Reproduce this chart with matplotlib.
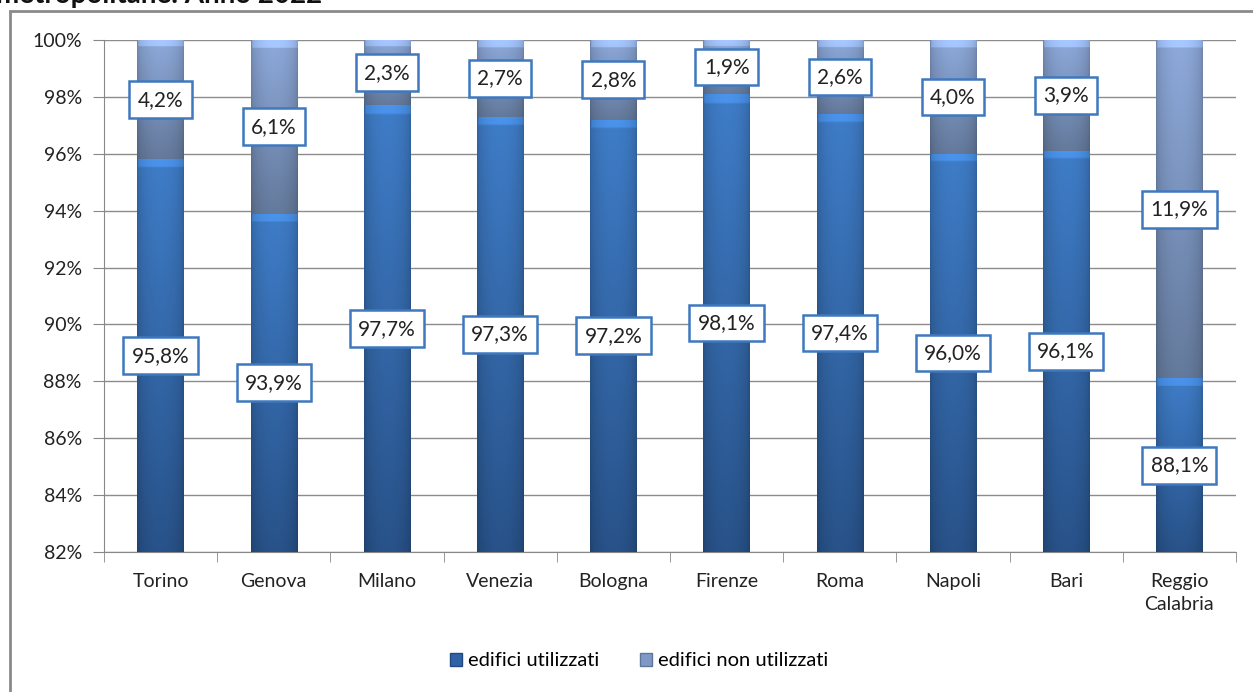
import numpy as np
import matplotlib as mpl
mpl.use('Agg')
import matplotlib.pyplot as plt
import matplotlib.patches as mpatches

# data
cities = ['Torino', 'Genova', 'Milano', 'Venezia', 'Bologna', 'Firenze',
          'Roma', 'Napoli', 'Bari', 'Reggio\nCalabria']
utilizzati = [95.8, 93.9, 97.7, 97.3, 97.2, 98.1, 97.4, 96.0, 96.1, 88.1]
non_utilizzati = [4.2, 6.1, 2.3, 2.7, 2.8, 1.9, 2.6, 4.0, 3.9, 11.9]
y_ticks = [82, 84, 86, 88, 90, 92, 94, 96, 98, 100]

plt.rcParams['font.family'] = ['Lato', 'DejaVu Sans']

fig = plt.figure(figsize=(12.53, 6.92), dpi=100)
ax = fig.add_axes([104/1253., 1-552/692., (1236-104)/1253., 512/692.])

ymin = y_ticks[0]
x = np.arange(len(cities))
w = 0.41
# bars start at the axis floor, as in the spreadsheet original
b1 = ax.bar(x, [u - ymin for u in utilizzati], w, bottom=ymin, color='#3a73ba', zorder=3)
b2 = ax.bar(x, non_utilizzati, w, bottom=utilizzati, color='#7d97c4', zorder=3)


def shade(patches, top, bottom):
    # vertical gradient with darker edges, clipped to each bar
    top = np.array(mpl.colors.to_rgb(top))
    bottom = np.array(mpl.colors.to_rgb(bottom))
    for p in patches:
        x0, y0 = p.get_x(), p.get_y()
        x1, y1 = x0 + p.get_width(), y0 + p.get_height()
        ny, nx = 200, 40
        t = np.linspace(0, 1, ny)[:, None, None]
        s = np.linspace(0, 1, nx)[None, :, None]
        img = top*(1-t) + bottom*t
        img = img*(0.80 + 0.20*np.sin(np.pi*s)**0.5)
        # bevel at the top of each segment
        ypix = (y1 - y0) / 18.0 * 512
        bev = min(7.0 / max(ypix, 1), 0.4)
        hl = (t < bev) & (s > t*0)
        img = np.where(hl, np.clip(img*1.18, 0, 1), img)
        im = ax.imshow(np.clip(img, 0, 1), extent=[x0, x1, y0, y1],
                       aspect='auto', origin='upper', zorder=3.5,
                       interpolation='bilinear')
        im.set_clip_path(p)


shade(b1, '#3f7dc8', '#285289')
shade(b2, '#8eaadb', '#647a9c')

box = dict(boxstyle='square,pad=0.4', fc='white', ec='#3f78be', lw=1.8)
for i in range(len(cities)):
    ax.text(x[i], (ymin + utilizzati[i]) / 2, ('%.1f%%' % utilizzati[i]).replace('.', ','),
            ha='center', va='center', fontsize=15, color='#222222', bbox=box, zorder=5)
    ax.text(x[i], utilizzati[i] + non_utilizzati[i] / 2,
            ('%.1f%%' % non_utilizzati[i]).replace('.', ','),
            ha='center', va='center', fontsize=15, color='#222222', bbox=box, zorder=5)

ax.set_xlim(-0.5, len(cities) - 0.5)
ax.set_ylim(ymin, 100)
ax.set_yticks(y_ticks)
ax.set_yticklabels(['%d%%' % v for v in y_ticks], fontsize=14, color='#222222')
ax.set_xticks(x)
ax.set_xticklabels(cities, fontsize=14, color='#222222', linespacing=1.45, va='top')
ax.set_xticks(np.arange(-0.5, len(cities)), minor=True)
ax.tick_params(axis='x', which='major', length=0, pad=15)
ax.tick_params(axis='x', which='minor', length=7, color='#888888')
ax.tick_params(axis='y', length=8, color='#888888', pad=8)
ax.grid(axis='y', color='#8c8c8c', lw=1, zorder=1)
for side in ['top', 'right']:
    ax.spines[side].set_visible(False)
ax.spines['left'].set_color('#888888')
ax.spines['bottom'].set_color('#888888')

# outer chart border (left and top visible)
fig.patches.append(mpatches.Rectangle((10/1253., -0.1), 1.2, (692-11)/692. + 0.1,
                                      transform=fig.transFigure, fill=False,
                                      ec='#8a8a8a', lw=2))
# title line cut by the top edge, as in the reference crop
fig.text(-0.003, 1 - 3/692., 'metropolitane. Anno 2022', fontsize=20, fontweight='bold',
         ha='left', va='baseline', color='#111111')

h1 = mpatches.Patch(fc='#2f63a6', ec='#1f4a80', label='edifici utilizzati')
h2 = mpatches.Patch(fc='#7f99c6', ec='#5f7599', label='edifici non utilizzati')
fig.legend(handles=[h1, h2], loc='center', bbox_to_anchor=(0.51, 1 - 661/692.),
           ncol=2, frameon=False, fontsize=14.5, handlelength=0.6, handleheight=0.6,
           handletextpad=0.3, columnspacing=2.0)

fig.savefig('out.png', dpi=100)
